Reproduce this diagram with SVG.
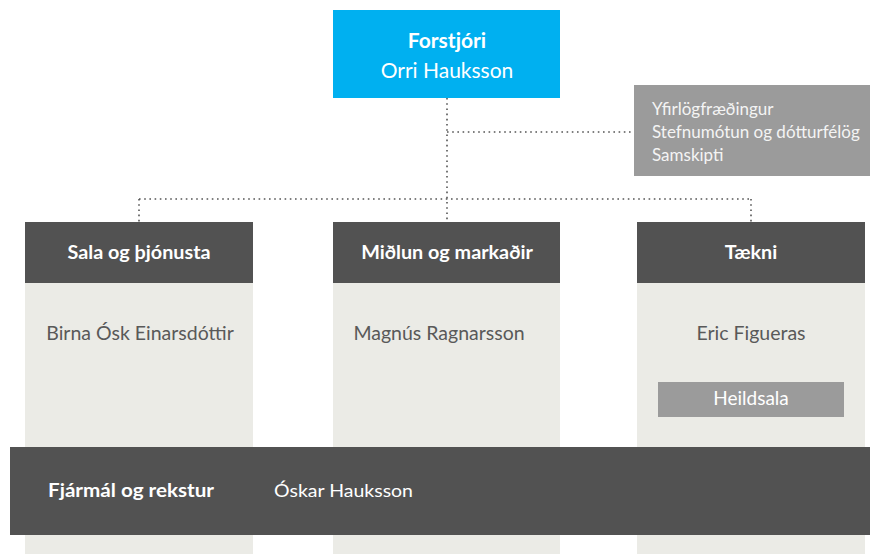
<svg xmlns="http://www.w3.org/2000/svg" width="870" height="554" viewBox="0 0 870 554">
<style>
text{font-family:Lato,"Open Sans","Liberation Sans",sans-serif}
.dark{fill:#525252}
.body{fill:#ebebe6}
.grey{fill:#9b9b9b}
.hdr{fill:#fff;font-weight:bold;font-size:19.8px;text-anchor:middle}
.name{fill:#595959;font-size:19.5px;text-anchor:middle}
.dot{stroke:#555;stroke-width:1.6;stroke-dasharray:1.6 3.6;fill:none}
</style>
<rect width="870" height="554" fill="#fff"/>
<g id="connectors">
<path class="dot" d="M447 98V222"/>
<path class="dot" d="M447 132H634"/>
<path class="dot" d="M139 199H751"/>
<path class="dot" d="M139 199V222"/>
<path class="dot" d="M751 199V222"/>
</g>
<g id="ceo">
<rect x="333" y="10" width="227" height="88" fill="#00b0f0"/>
<text x="447" y="48" fill="#fff" font-size="21" font-weight="bold" text-anchor="middle">Forstjóri</text>
<text x="447" y="78" fill="#fff" font-size="21" text-anchor="middle">Orri Hauksson</text>
</g>
<g id="staff">
<rect x="634" y="85" width="236" height="91" class="grey"/>
<text x="652" y="115" fill="#f4f4f4" font-size="17">Yfirlögfræðingur</text>
<text x="652" y="138" fill="#f4f4f4" font-size="17">Stefnumótun og dótturfélög</text>
<text x="652" y="161" fill="#f4f4f4" font-size="17">Samskipti</text>
</g>
<g id="sala">
<rect x="25" y="283" width="228" height="271" class="body"/>
<rect x="25" y="222" width="228" height="61" class="dark"/>
<text x="139" y="259" class="hdr">Sala og þjónusta</text>
<text x="140" y="340" class="name">Birna Ósk Einarsdóttir</text>
</g>
<g id="midlun">
<rect x="333" y="283" width="227" height="271" class="body"/>
<rect x="333" y="222" width="227" height="61" class="dark"/>
<text x="447" y="259" class="hdr">Miðlun og markaðir</text>
<text x="439" y="340" class="name">Magnús Ragnarsson</text>
</g>
<g id="taekni">
<rect x="637" y="283" width="228" height="271" class="body"/>
<rect x="637" y="222" width="228" height="61" class="dark"/>
<text x="751" y="259" class="hdr">Tækni</text>
<text x="751" y="340" class="name">Eric Figueras</text>
</g>
<g id="heildsala">
<rect x="658" y="382" width="186" height="35" class="grey"/>
<text x="751" y="405" fill="#fff" font-size="19" text-anchor="middle">Heildsala</text>
</g>
<g id="fjarmal">
<rect x="10" y="447" width="860" height="88" class="dark"/>
<text x="48" y="497" fill="#fff" font-size="18" font-weight="bold" textLength="166" lengthAdjust="spacingAndGlyphs">Fjármál  og rekstur</text>
<text x="274" y="497" fill="#fff" font-size="18" textLength="139" lengthAdjust="spacingAndGlyphs">Óskar Hauksson</text>
</g>
</svg>
